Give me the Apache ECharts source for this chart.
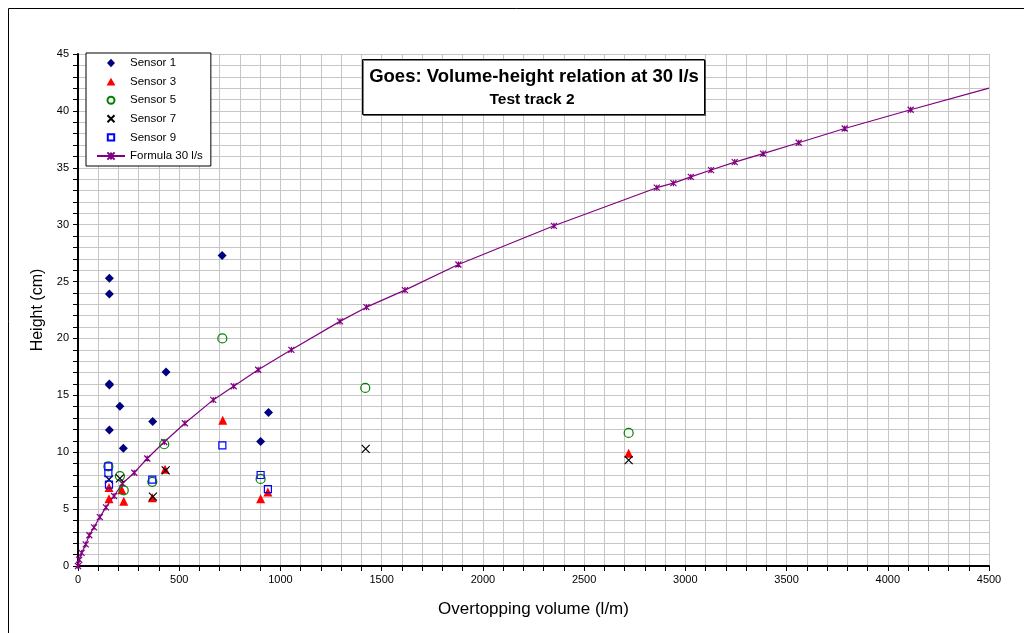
<!DOCTYPE html>
<html>
<head>
<meta charset="utf-8">
<script src="https://cdn.jsdelivr.net/npm/echarts@6/dist/echarts.min.js"></script>
<style>html,body{margin:0;padding:0;background:#fff;}#c{width:1024px;height:633px;}</style>
</head>
<body>
<div id="c"></div>
<script>
// ---- data ----
var sensor1 = [[155,25.3],[155,23.9],[155,16.0],[155,15.9],[207,14.05],[155,11.95],[224,10.35],[369,12.7],[435,17.05],[712,27.3],[902,10.95],[941,13.5]];
var sensor3 = [[153,6.9],[153,5.9],[216,6.7],[226,5.7],[367,6.0],[430,8.5],[715,12.8],[902,5.9],[938,6.5],[2720,9.9]];
var sensor5 = [[150,8.75],[207,7.9],[226,6.65],[367,7.4],[426,10.7],[713,20.0],[902,7.65],[1419,15.65],[2720,11.7]];
var sensor7 = [[153,7.6],[207,7.7],[370,6.1],[433,8.4],[1421,10.3],[2720,9.3]];
var sensor9 = [[150,8.75],[150,8.15],[153,7.15],[367,7.6],[713,10.6],[902,8.0],[938,6.75]];
var formulaV = [0,6,18,38,56,79,108,138,178,219,278,342,426,528,668,769,890,1054,1294,1425,1615,1879,2351,2859,2941,3027,3127,3244,3384,3560,3787,4113,4500];
var formulaH = [0,0.55,1.15,1.9,2.7,3.4,4.3,5.15,6.15,7.25,8.2,9.45,10.9,12.55,14.6,15.8,17.25,19.0,21.5,22.75,24.25,26.5,29.9,33.25,33.65,34.2,34.8,35.5,36.25,37.2,38.45,40.1,42.0];
var xTicks = {min:0, max:4500, step:500};
var yTicks = {min:0, max:45, step:5};
var titleText = 'Goes: Volume-height relation at 30 l/s';
var subTitleText = 'Test track 2';

var FONT = "'Liberation Sans', Arial, sans-serif";
var formulaData = formulaV.map(function(v,i){
  var item = {value:[v, formulaH[i]]};
  if (i === formulaV.length-1) item.symbol = 'none';
  return item;
});
var crossPath = 'path://M0,0L10,10M10,0L0,10';
var starPath = 'path://M0,0L10,10M10,0L0,10M5,0L5,10';
var plain = function(v){ return String(v); };
// legend icons drawn inside a 28x9 box so they keep their shape
var BOX = 'M0,0M28,9';
var legendIcons = {
  'Sensor 1': 'path://' + BOX + 'M14,0.3L18,4.5L14,8.7L10,4.5Z',
  'Sensor 3': 'path://' + BOX + 'M14,0.6L18.4,8.4L9.6,8.4Z',
  'Sensor 5': 'path://' + BOX + 'M10.5,4.5A3.5,3.5,0,1,1,17.5,4.5A3.5,3.5,0,1,1,10.5,4.5Z',
  'Sensor 7': 'path://' + BOX + 'M10.5,1L17.5,8M17.5,1L10.5,8',
  'Sensor 9': 'path://' + BOX + 'M10.8,1.3L17.2,1.3L17.2,7.7L10.8,7.7Z'
};

var chart = echarts.init(document.getElementById('c'), null, {renderer:'canvas'});
var gridColor = '#c6c6c6';
chart.setOption({
  animation:false,
  backgroundColor:'#fff',
  grid:{left:78, top:54, width:911, height:512, containLabel:false},
  xAxis:{
    type:'value', min:xTicks.min, max:xTicks.max, interval:xTicks.step,
    name:'Overtopping volume (l/m)', nameLocation:'middle', nameGap:35,
    nameTextStyle:{fontFamily:FONT, fontSize:17, color:'#000'},
    axisLine:{show:true, onZero:false, lineStyle:{color:'#000', width:2}},
    axisTick:{show:true, length:5, lineStyle:{color:'#000', width:1}},
    minorTick:{show:true, splitNumber:5, length:5, lineStyle:{color:'#000', width:1}},
    axisLabel:{fontFamily:FONT, fontSize:11, color:'#000', margin:8, formatter:plain},
    splitLine:{show:true, lineStyle:{color:gridColor, width:1}},
    minorSplitLine:{show:true, lineStyle:{color:gridColor, width:1}}
  },
  yAxis:{
    type:'value', min:yTicks.min, max:yTicks.max, interval:yTicks.step,
    name:'Height (cm)', nameLocation:'middle', nameGap:31,
    nameTextStyle:{fontFamily:FONT, fontSize:16, color:'#000'},
    axisLine:{show:true, onZero:false, lineStyle:{color:'#000', width:2}},
    axisTick:{show:true, length:5, lineStyle:{color:'#000', width:1}},
    minorTick:{show:true, splitNumber:5, length:5, lineStyle:{color:'#000', width:1}},
    axisLabel:{fontFamily:FONT, fontSize:11, color:'#000', margin:9, formatter:plain},
    splitLine:{show:true, lineStyle:{color:gridColor, width:1}},
    minorSplitLine:{show:true, lineStyle:{color:gridColor, width:1}}
  },
  legend:{
    orient:'vertical', left:86, top:53,
    backgroundColor:'#fff', borderColor:'#000', borderWidth:1, borderRadius:0,
    padding:[3,8,3,10], itemGap:4.6, itemWidth:28, itemHeight:9,
    textStyle:{fontFamily:FONT, fontSize:11.5, color:'#000', lineHeight:14},
    data:[
      {name:'Sensor 1', icon:legendIcons['Sensor 1']},
      {name:'Sensor 3', icon:legendIcons['Sensor 3']},
      {name:'Sensor 5', icon:legendIcons['Sensor 5']},
      {name:'Sensor 7', icon:legendIcons['Sensor 7']},
      {name:'Sensor 9', icon:legendIcons['Sensor 9']},
      'Formula 30 l/s'
    ]
  },
  graphic:[
    {type:'rect', shape:{x:8.5, y:8.5, width:1100, height:700}, style:{fill:'none', stroke:'#000', lineWidth:1}, silent:true, z:-10},
    {type:'rect', shape:{x:362.5, y:59.5, width:342, height:55}, style:{fill:'#fff', stroke:'#000', lineWidth:1, shadowColor:'rgba(0,0,0,0.5)', shadowOffsetX:1, shadowOffsetY:1, shadowBlur:0}, z:100},
    {type:'text', x:534, y:77, style:{text:titleText, font:'bold 18.5px '+FONT, fill:'#000', align:'center', verticalAlign:'middle'}, z:101},
    {type:'text', x:532, y:100, style:{text:subTitleText, font:'bold 15.5px '+FONT, fill:'#000', align:'center', verticalAlign:'middle'}, z:101}
  ],
  series:[
    {name:'Sensor 1', type:'scatter', data:sensor1, symbol:'diamond', symbolSize:9, itemStyle:{color:'#000080', opacity:1}, z:5},
    {name:'Sensor 3', type:'scatter', data:sensor3, symbol:'triangle', symbolSize:9, itemStyle:{color:'#ff0000', opacity:1}, z:5},
    {name:'Sensor 5', type:'scatter', data:sensor5, symbol:'circle', symbolSize:9, itemStyle:{color:'rgba(255,255,255,0)', borderColor:'#008000', borderWidth:1.2, opacity:1}, z:5},
    {name:'Sensor 7', type:'scatter', data:sensor7, symbol:crossPath, symbolSize:8, itemStyle:{color:'rgba(0,0,0,0)', borderColor:'#000', borderWidth:1.2, opacity:1}, z:5},
    {name:'Sensor 9', type:'scatter', data:sensor9, symbol:'rect', symbolSize:7, itemStyle:{color:'rgba(255,255,255,0)', borderColor:'#0000ff', borderWidth:1.2, opacity:1}, z:5},
    {name:'Formula 30 l/s', type:'line', data:formulaData, symbol:starPath, symbolSize:6, showSymbol:true,
      lineStyle:{color:'#800080', width:1.2}, itemStyle:{color:'#800080', borderColor:'#800080', borderWidth:1.2}, z:4}
  ]
});
</script>
</body>
</html>
